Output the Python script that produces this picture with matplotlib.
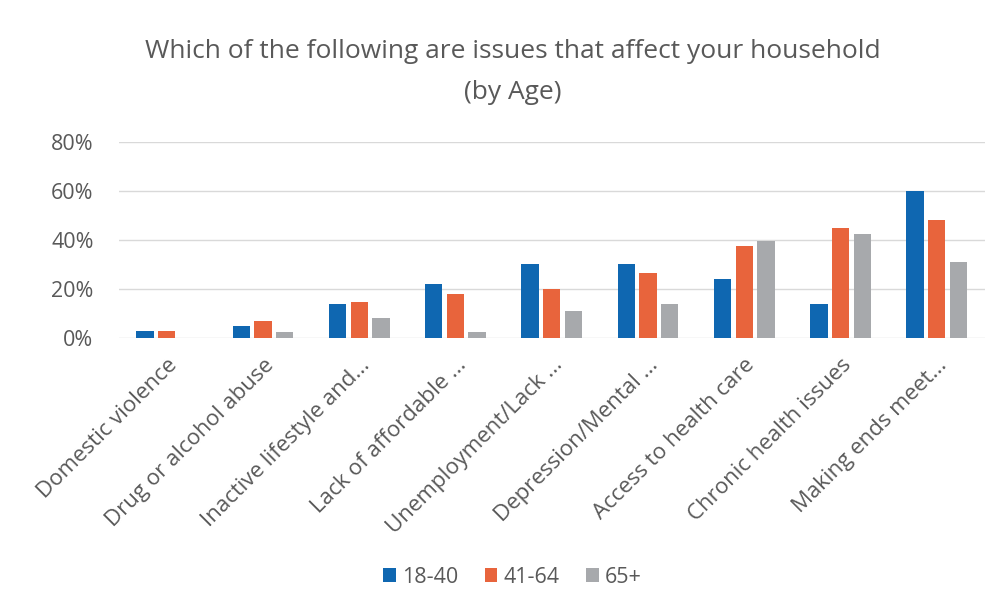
import numpy as np
import matplotlib.pyplot as plt
from matplotlib.ticker import PercentFormatter

categories = ["Domestic violence", "Drug or alcohol abuse", "Inactive lifestyle and...",
              "Lack of affordable ...", "Unemployment/Lack ...", "Depression/Mental ...",
              "Access to health care", "Chronic health issues", "Making ends meet..."]
age_18_40 = [3, 5, 14, 22, 30, 30, 24, 14, 60]
age_41_64 = [3, 7, 14.5, 18, 20, 26.5, 37.5, 45, 48]
age_65_plus = [0, 2.5, 8, 2.5, 11, 14, 39.5, 42.5, 31]
series_names = ["18-40", "41-64", "65+"]

COLORS = ["#0F67B1", "#E8643C", "#A7A9AC"]
TEXT = "#595959"
FONT = "Open Sans"


def main():
    fig = plt.figure(figsize=(10.05, 6.09), dpi=100)
    ax = fig.add_axes([0.118, 0.445, 0.862, 0.322])

    x = np.arange(len(categories))
    width = 0.18
    step = 0.225
    for i, (vals, name) in enumerate(zip([age_18_40, age_41_64, age_65_plus], series_names)):
        ax.bar(x + (i - 1) * step, vals, width, color=COLORS[i], label=name, zorder=3)

    ax.set_xlim(-0.5, len(categories) - 0.5)
    ax.set_ylim(0, 80)
    ax.set_yticks([0, 20, 40, 60, 80])
    ax.yaxis.set_major_formatter(PercentFormatter(decimals=0))
    ax.grid(axis="y", color="#D9D9D9", linewidth=1, zorder=0)
    for s in ax.spines.values():
        s.set_visible(False)
    ax.tick_params(length=0, colors=TEXT, labelsize=15.5)
    ax.tick_params(axis="y", pad=18)
    ax.tick_params(axis="x", pad=12)
    for lab in ax.get_yticklabels():
        lab.set_fontfamily(FONT)

    ax.set_xticks(x)
    ax.set_xticklabels(categories, rotation=45, ha="right", rotation_mode="anchor",
                       fontsize=16, color=TEXT, family=FONT)

    fig.text(0.51, 0.915, "Which of the following are issues that affect your household",
             ha="center", va="center", fontsize=19, color=TEXT, family=FONT)
    fig.text(0.51, 0.848, "(by Age)", ha="center", va="center", fontsize=19,
             color=TEXT, family=FONT)

    leg = fig.legend(loc="center", bbox_to_anchor=(0.51, 0.052), ncol=3, frameon=False,
                     handlelength=0.6, handleheight=0.6, handletextpad=0.3, columnspacing=1.2,
                     prop={"family": FONT, "size": 15.5})
    for t in leg.get_texts():
        t.set_color(TEXT)

    fig.savefig("out.png", dpi=100, facecolor="white")


if __name__ == "__main__":
    main()
